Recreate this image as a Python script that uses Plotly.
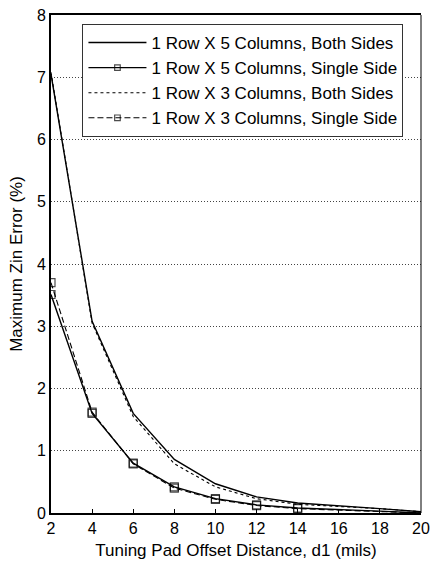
import plotly.graph_objects as go

# Offset distance d1 (mils)
d1 = [2, 4, 6, 8, 10, 12, 14, 16, 18, 20]

# Maximum Zin error (%) for each pad arrangement
err_5col_both = [7.05, 3.08, 1.60, 0.86, 0.47, 0.26, 0.16, 0.12, 0.07, 0.02]
err_5col_single = [3.51, 1.60, 0.80, 0.42, 0.23, 0.13, 0.08, 0.06, 0.03, 0.0]
err_3col_both = [7.08, 3.05, 1.55, 0.79, 0.42, 0.23, 0.14, 0.11, 0.07, 0.02]
err_3col_single = [3.70, 1.62, 0.79, 0.40, 0.22, 0.12, 0.07, 0.05, 0.03, 0.0]

names = [
    "1 Row X 5 Columns, Both Sides",
    "1 Row X 5 Columns, Single Side",
    "1 Row X 3 Columns, Both Sides",
    "1 Row X 3 Columns, Single Side",
]

# markers only up to 14 mils
marker_sizes = [8 if x <= 14 else 0 for x in d1]

fig = go.Figure()
fig.add_trace(go.Scatter(x=d1, y=err_5col_both, name=names[0], mode="lines",
                         line=dict(color="black", width=1.4)))
fig.add_trace(go.Scatter(x=d1, y=err_5col_single, name=names[1], mode="lines+markers",
                         line=dict(color="black", width=1.4),
                         marker=dict(symbol="square-open", size=marker_sizes, color="black",
                                     line=dict(width=1.2))))
fig.add_trace(go.Scatter(x=d1, y=err_3col_both, name=names[2], mode="lines",
                         line=dict(color="black", width=1.1, dash="3px,3px")))
fig.add_trace(go.Scatter(x=d1, y=err_3col_single, name=names[3], mode="lines+markers",
                         line=dict(color="black", width=1.1, dash="6px,3px"),
                         marker=dict(symbol="square-open", size=marker_sizes, color="black",
                                     line=dict(width=1.2))))

font = "Liberation Sans, Arial, sans-serif"

fig.update_layout(
    width=437, height=571,
    margin=dict(l=51, r=8, t=7, b=58),
    paper_bgcolor="white", plot_bgcolor="white",
    font=dict(family=font, color="black", size=16),
    showlegend=True,
    legend=dict(x=0.085, y=0.982, xanchor="left", yanchor="top",
                bordercolor="#333", borderwidth=1, bgcolor="white",
                font=dict(size=17), tracegroupgap=0, itemwidth=58),
    xaxis=dict(range=[2, 20], tickvals=list(range(2, 21, 2)),
               ticks="inside", ticklen=4, tickcolor="black",
               ticklabeloverflow="allow",
               showgrid=False, zeroline=False,
               showline=True, linecolor="black", linewidth=2, mirror=True,
               tickfont=dict(size=16),
               title=dict(text="Tuning Pad Offset Distance, d1 (mils)", font=dict(size=17), standoff=8)),
    yaxis=dict(range=[0, 8], tickvals=list(range(0, 9)),
               ticks="", showgrid=True, gridcolor="#444", gridwidth=1, griddash="1px,2px",
               zeroline=False, showline=True, linecolor="black", linewidth=2,
               tickfont=dict(size=16),
               title=dict(text="Maximum Zin Error (%)", font=dict(size=17), standoff=10)),
)

# thin right-hand frame edge
fig.add_shape(type="line", xref="paper", yref="paper", x0=1, x1=1, y0=0, y1=1,
              line=dict(color="black", width=1))

fig.write_html("out.html")
